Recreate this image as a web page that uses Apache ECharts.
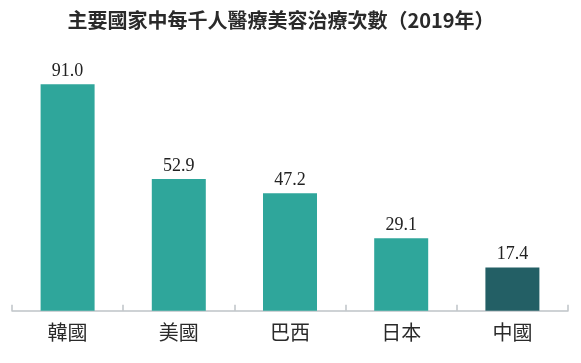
<!DOCTYPE html>
<html><head><meta charset="utf-8">
<script src="https://cdn.jsdelivr.net/npm/echarts@6/dist/echarts.min.js"></script>
<style>html,body{margin:0;padding:0;background:#fff}#c{width:581px;height:363px}</style>
</head><body><div id="c"></div>
<script>
var categories = ['韓國', '美國', '巴西', '日本', '中國'];
var values = [91.0, 52.9, 47.2, 29.1, 17.4];
var barColors = ['#2fa69b', '#2fa69b', '#2fa69b', '#2fa69b', '#235f65'];
var titleText = '主要國家中每千人醫療美容治療次數（2019年）';

var chart = echarts.init(document.getElementById('c'));
chart.setOption({
  animation: false,
  title: {
    text: titleText,
    left: 276, top: 5, textAlign: 'center',
    textStyle: {fontSize: 20, fontWeight: 'bold', color: '#2a2a2a', fontFamily: '"Noto Sans CJK TC", "Liberation Serif", serif'}
  },
  grid: {left: 12, right: 13, top: 61.9, bottom: 52.3, containLabel: false},
  xAxis: {
    type: 'category', data: categories,
    axisLine: {lineStyle: {color: '#bfc3c7', width: 1.5}},
    axisTick: {show: true, inside: true, length: 6, interval: 0, lineStyle: {color: '#bfc3c7', width: 1.5}},
    axisLabel: {margin: 14, fontSize: 20, color: '#2a2a2a', fontFamily: '"Liberation Serif", "Noto Sans CJK TC", serif'}
  },
  yAxis: {type: 'value', min: 0, max: 100, show: false, splitLine: {show: false}},
  series: [{
    type: 'bar', barWidth: 54,
    data: values.map(function (v, i) { return {value: v, itemStyle: {color: barColors[i]}}; }),
    label: {show: true, position: 'top', distance: 4, fontSize: 18, color: '#222',
      fontFamily: '"Liberation Serif", serif', formatter: function (p) { return p.value.toFixed(1); }}
  }]
});
</script></body></html>
